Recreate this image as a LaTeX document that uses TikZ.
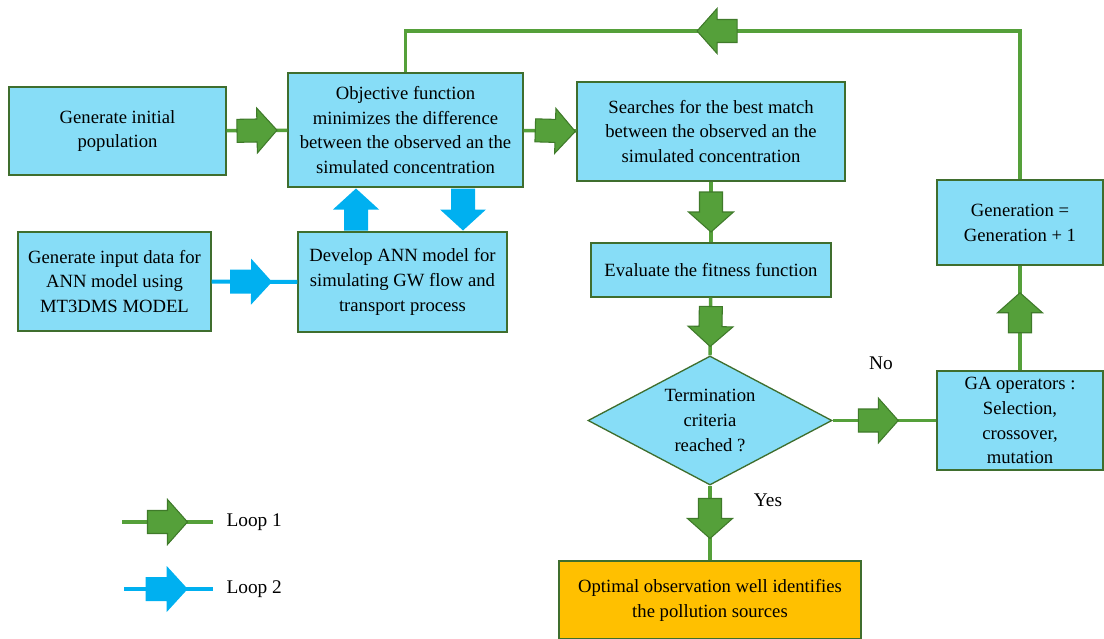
\documentclass[tikz,border=0pt]{standalone}
\usepackage{fontspec}
\setmainfont{Liberation Serif}
\usetikzlibrary{shapes.geometric}
\definecolor{boxfill}{HTML}{87DDF7}
\definecolor{boxline}{HTML}{3F6E2E}
\definecolor{gfill}{HTML}{55A03A}
\definecolor{gdark}{HTML}{3F7A2A}
\definecolor{bfill}{HTML}{00B0F0}
\definecolor{ofill}{HTML}{FFC000}
\tikzset{
  x=0.75pt, y=-0.75pt,
  allow upside down,
  every node/.style={font=\fontsize{14}{18.7}\selectfont, align=center, inner sep=1pt},
  box/.style={draw=boxline, fill=boxfill, line width=1pt, rectangle},
  gline/.style={draw=gfill, line width=2.6pt},
  bline/.style={draw=bfill, line width=3pt},
  garrow/.pic={\draw[fill=gfill, draw=gdark, line width=0.8pt, line join=miter]
     (-20,-11.5) -- (0,-11.5) -- (0,-22.5) -- (20,0) -- (0,22.5) -- (0,11.5) -- (-20,11.5) -- cycle;},
  barrow/.pic={\fill[bfill]
     (-21,-12) -- (0,-12) -- (0,-23) -- (21,0) -- (0,23) -- (0,12) -- (-21,12) -- cycle;},
  lbl/.style={font=\fontsize{14.5}{16}\selectfont}
}
\begin{document}
\begin{tikzpicture}
\useasboundingbox (0,0) rectangle (1104,639);
% boxes
\node[box, minimum width=162.75pt, minimum height=66pt] (gi) at (117.5,131) {Generate initial\\population};
\node[box, minimum width=176.25pt, minimum height=85.5pt] (obj) at (405.5,130) {Objective function\\minimizes the difference\\between the observed an the\\simulated concentration};
\node[box, minimum width=201pt, minimum height=74.25pt] (srch) at (711,131.5) {Searches for the best match\\between the observed an the\\simulated concentration};
\node[box, minimum width=144.75pt, minimum height=74.25pt] (gin) at (114.5,281.5) {Generate input data for\\ANN model using\\MT3DMS MODEL};
\node[box, minimum width=156.75pt, minimum height=75pt] (ann) at (402.5,282) {Develop ANN model for\\simulating GW flow and\\transport process};
\node[box, minimum width=180pt, minimum height=40.5pt] (eval) at (711,270) {Evaluate the fitness function};
\node[box, shape=diamond, aspect=1.89, inner sep=0pt, minimum width=183pt, minimum height=96.75pt] (dia) at (710,420.5) {Termination\\criteria\\reached ?};
\node[box, minimum width=124.5pt, minimum height=74.25pt] (ga) at (1020,420.5) {GA operators :\\Selection,\\crossover,\\mutation};
\node[box, minimum width=124.5pt, minimum height=63.75pt] (gen) at (1020,222.5) {Generation =\\Generation + 1};
\node[box, fill=ofill, minimum width=226.5pt, minimum height=58.5pt] (opt) at (710,600) {Optimal observation well identifies\\the pollution sources};
% labels
\node[lbl] (no) at (881,363) {No};
\node[lbl] (yes) at (768,500) {Yes};
% green connectors
\coordinate (tr) at (1020,31);
\coordinate (tl) at (405.5,31);
\draw[gline] (gi) -- (obj);
\draw[gline] (obj) -- (srch);
\draw[gline] (srch) -- (eval);
\draw[gline] (eval) -- (dia.north);
\draw[gline] (dia.south) -- (opt);
\draw[gline] (dia.east) -- (ga.west);
\draw[gline] (ga) -- (gen);
\draw[gline] (gen.north) -- (tr) -- (tl) -- (obj.north);
\path (gi.east) -- (obj.west) pic[pos=0.5, sloped]{garrow};
\path (obj.east) -- (srch.west) pic[pos=0.6, sloped]{garrow};
\path (srch.south) -- (eval.north) pic[pos=0.5, sloped]{garrow};
\path (eval.south) -- (dia.north) pic[pos=0.5, sloped]{garrow};
\path (dia.south) -- (opt.north) pic[pos=0.44, sloped]{garrow};
\path (dia.east) -- (ga.west) pic[pos=0.44, sloped]{garrow};
\path (ga.north) -- (gen.south) pic[pos=0.55, sloped]{garrow};
\path (tr) -- (tl) pic[pos=0.493, sloped]{garrow};
% blue connectors
\draw[bline] (gin) -- (ann);
\path (gin.east) -- (ann.west) pic[pos=0.46, sloped]{barrow};
\path (356,0 |- ann.north) -- (356,0 |- obj.south) pic[pos=0.5, sloped]{barrow};
\path (463,0 |- obj.south) -- (463,0 |- ann.north) pic[pos=0.5, sloped]{barrow};
% legend
\coordinate (l1a) at (122,522);
\coordinate (l1b) at (213,522);
\coordinate (l2a) at (124,589);
\coordinate (l2b) at (213,589);
\draw[gline] (l1a) -- (l1b);
\path (l1a) -- (l1b) pic[pos=0.5, sloped]{garrow};
\draw[bline] (l2a) -- (l2b);
\path (l2a) -- (l2b) pic[pos=0.48, sloped]{barrow};
\node[lbl, anchor=west] (lt1) at (225,522) {Loop 1};
\node[lbl, anchor=west] (lt2) at (225,589) {Loop 2};
\end{tikzpicture}
\end{document}
